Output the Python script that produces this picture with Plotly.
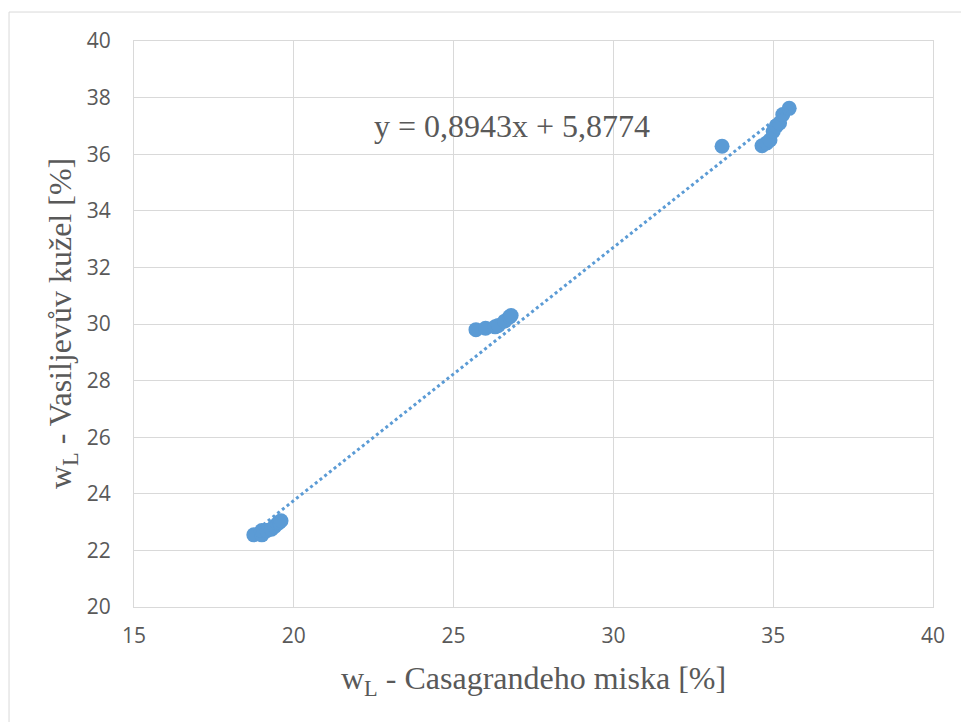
import plotly.graph_objects as go

# Liquid limit: Casagrande cup (x) vs. Vasiljev cone (y), in %
casagrande = [18.75, 19.0, 19.0, 19.15, 19.3, 19.4, 19.5, 19.55, 19.6,
              25.7, 26.0, 26.3, 26.4, 26.6, 26.75, 26.8,
              33.4, 34.65, 34.8, 34.9, 35.0, 35.1, 35.2, 35.3, 35.5]
vasiljev = [22.55, 22.55, 22.7, 22.7, 22.75, 22.85, 22.95, 23.0, 23.05,
            29.8, 29.85, 29.9, 29.95, 30.1, 30.25, 30.3,
            36.28, 36.3, 36.4, 36.5, 36.8, 37.0, 37.1, 37.4, 37.62]

# Linear trend coefficients
slope = 0.8943
intercept = 5.8774
trend_x = [min(casagrande), max(casagrande)]
trend_y = [slope * v + intercept for v in trend_x]

x_ticks = [15, 20, 25, 30, 35, 40]
y_ticks = [20, 22, 24, 26, 28, 30, 32, 34, 36, 38, 40]

blue = "#5B9BD5"
grey_text = "#595959"
grid = "#D9D9D9"
serif = dict(family="Liberation Serif", size=32, color=grey_text)

fig = go.Figure()
fig.add_trace(go.Scatter(
    x=casagrande, y=vasiljev, mode="markers",
    marker=dict(color=blue, size=15, line=dict(width=0)),
    showlegend=False, hoverinfo="x+y"))
fig.add_trace(go.Scatter(
    x=trend_x, y=trend_y, mode="lines",
    line=dict(color=blue, width=3, dash="dot"),
    showlegend=False, hoverinfo="skip"))

fig.add_annotation(
    x=26.83, y=37.0, xref="x", yref="y",
    text="y = 0,8943x + 5,8774", showarrow=False, font=serif)

# axis titles
fig.add_annotation(
    x=0.5, y=-0.129, xref="paper", yref="paper", yanchor="middle",
    text="w<sub>L</sub> - Casagrandeho miska [%]", showarrow=False, font=serif)
fig.add_annotation(
    x=-0.0901, y=0.5, xref="paper", yref="paper", xanchor="center",
    textangle=-90, text="w<sub>L</sub> - Vasiljevův kužel [%]",
    showarrow=False, font=serif)

# outer chart frame
fig.add_shape(type="rect", xref="paper", yref="paper",
              x0=-0.1564, y0=-0.25, x1=1.2, y1=1.0512,
              line=dict(color=grid, width=1), fillcolor="rgba(0,0,0,0)",
              layer="below")

axis_common = dict(
    showgrid=True, gridcolor=grid, gridwidth=1, zeroline=False,
    showline=True, linecolor=grid, linewidth=1, mirror=True, ticks="",
    tickfont=dict(family="Open Sans", size=21, color=grey_text),
)

fig.update_layout(
    width=961, height=722,
    margin=dict(l=134, r=28, t=41, b=115),
    paper_bgcolor="white", plot_bgcolor="white",
    xaxis=dict(range=[15, 40], tickvals=x_ticks, ticklabelstandoff=10,
               **axis_common),
    yaxis=dict(range=[20, 40], tickvals=y_ticks, ticklabelstandoff=18,
               **axis_common),
)

fig.write_html("out.html")
